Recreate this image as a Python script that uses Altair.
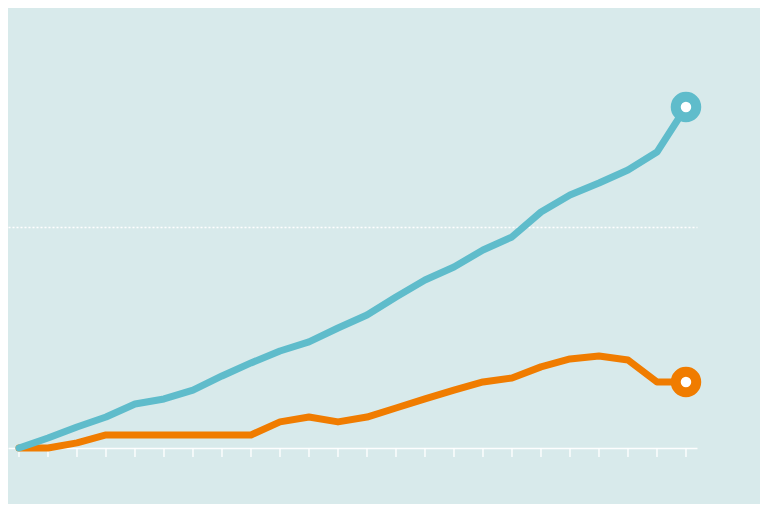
import altair as alt
import pandas as pd

idx = list(range(24))
teal = [0, 4.5, 9.5, 14.0, 19.9, 22.2, 26.2, 32.6, 38.5, 43.9, 48.0, 54.3,
        60.2, 68.3, 76.0, 81.9, 89.6, 95.5, 106.8, 114.5, 119.9, 125.8, 133.9, 154.3]
orange = [0, 0, 2.3, 5.9, 5.9, 5.9, 5.9, 5.9, 5.9, 11.8, 14.0, 11.8,
          14.0, 18.1, 22.2, 26.2, 29.9, 31.7, 36.7, 40.3, 41.6, 39.8, 29.9, 29.9]
series_names = ["teal", "orange"]
colors = ["#5fbccb", "#f07c00"]
bg = "#d8eaeb"

rows = []
for name, vals in zip(series_names, [teal, orange]):
    for i, v in zip(idx, vals):
        rows.append({"i": i, "v": v, "s": name})
df = pd.DataFrame(rows)
last = df[df["i"] == idx[-1]]
ticks_df = pd.DataFrame({"i": idx, "v": [0] * len(idx)})

xs = alt.Scale(domain=[-0.379, 23.38], nice=False, zero=False)
ys = alt.Scale(domain=[0, 199.1], nice=False, zero=False)
cs = alt.Scale(domain=series_names, range=colors)

xaxis = alt.Axis(values=idx, labels=False, title=None, grid=False, ticks=False,
                 domainColor="white", domainWidth=1.5, domainOpacity=0.95)
yaxis = alt.Axis(values=[100], labels=False, title=None, ticks=False, domain=False,
                 grid=True, gridColor="white", gridDash=[2, 2], gridWidth=1.5, gridOpacity=1)

tick_layer = alt.Chart(ticks_df).mark_rule(color="white", strokeWidth=1.5, opacity=0.9,
                                           y2Offset=9).encode(
    x=alt.X("i:Q", scale=xs, axis=xaxis),
    y=alt.Y("v:Q", scale=ys, axis=yaxis),
    y2=alt.Y2("v:Q"),
)

base = alt.Chart(df)
lines = base.mark_line(strokeWidth=7, strokeCap="round", strokeJoin="round").encode(
    x=alt.X("i:Q", scale=xs),
    y=alt.Y("v:Q", scale=ys),
    color=alt.Color("s:N", scale=cs, legend=None),
    order=alt.Order("i:Q"),
    detail="s:N",
)
orange_line = lines.transform_filter(alt.datum.s == "orange")
teal_line = lines.transform_filter(alt.datum.s == "teal")

pts = alt.Chart(last).mark_point(filled=False, fill="white", fillOpacity=1,
                                 strokeWidth=10, size=420, opacity=1).encode(
    x=alt.X("i:Q", scale=xs),
    y=alt.Y("v:Q", scale=ys),
    stroke=alt.Stroke("s:N", scale=cs, legend=None),
)

page_css = "html, body { background: %s !important; }" % bg

chart = alt.layer(tick_layer, orange_line, teal_line, pts).properties(
    width=689, height=440,
    autosize=alt.AutoSizeParams(type="none"),
    padding={"left": 0, "top": 0, "right": 63, "bottom": 56},
    background=bg,
    usermeta={"embedOptions": {"defaultStyle": page_css}},
).configure_view(stroke=None)

chart.save("out.html", embed_options={"renderer": "svg", "actions": False})
